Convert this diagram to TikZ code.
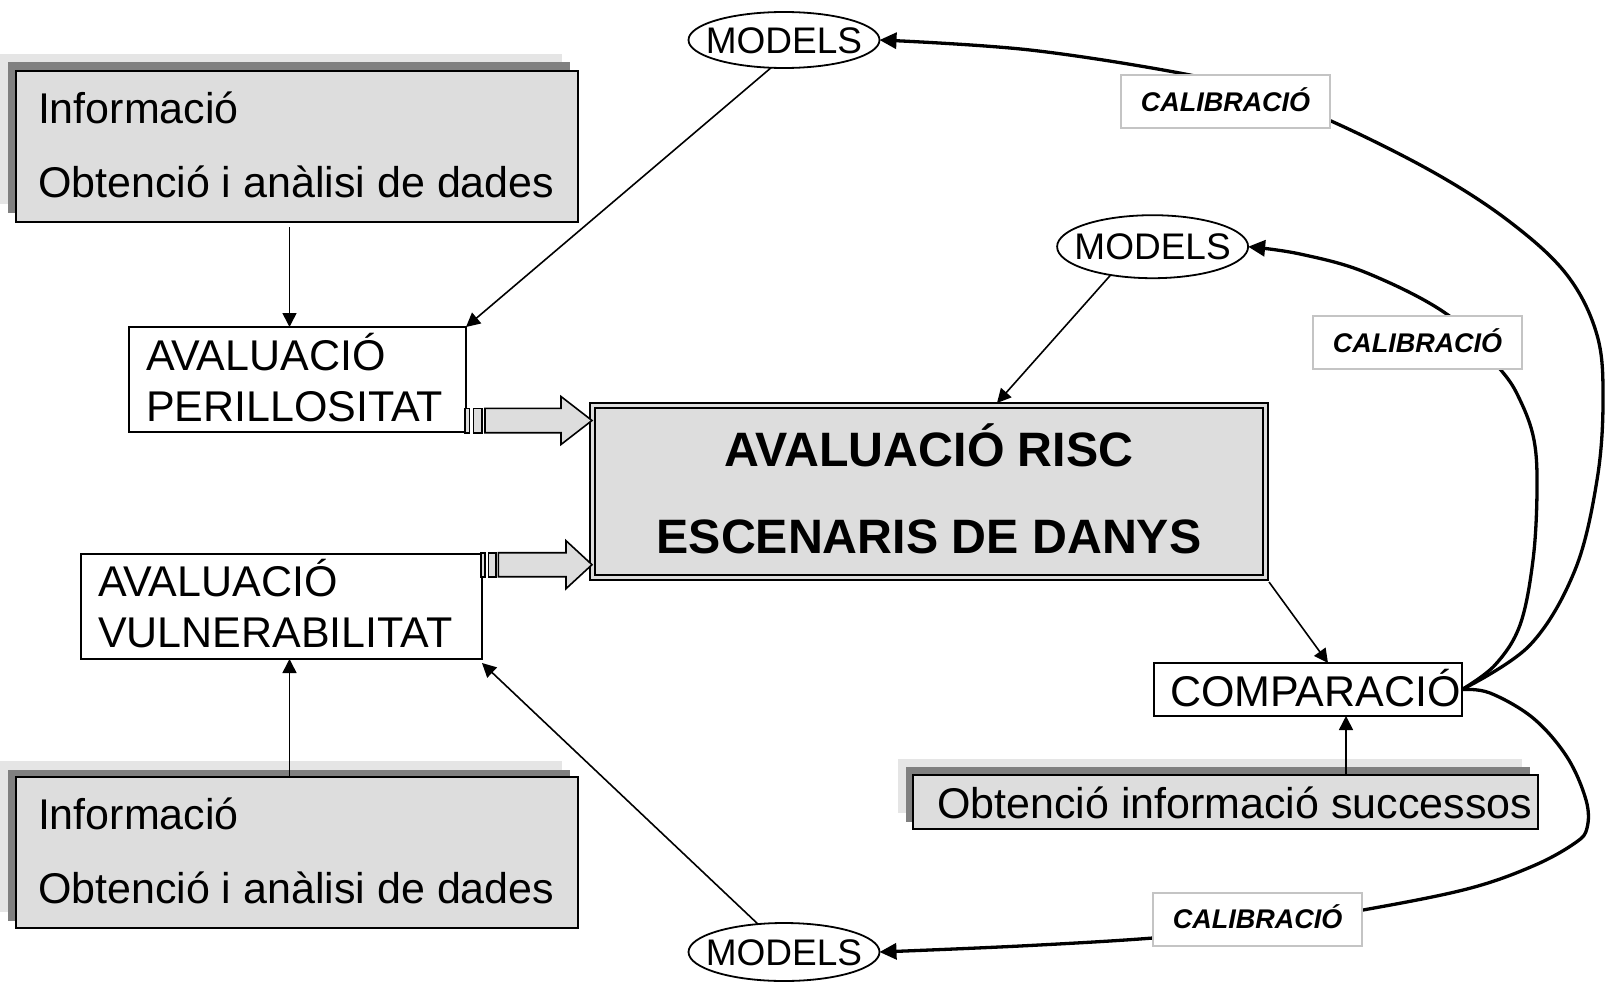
\documentclass[tikz,border=0pt]{standalone}
\usepackage{fontspec}
\setmainfont{Liberation Sans}
\usetikzlibrary{arrows.meta,shapes.geometric,calc}
\definecolor{boxgray}{HTML}{DDDDDD}
\definecolor{darkshadow}{HTML}{808080}
\definecolor{lightshadow}{HTML}{E5E5E5}
\definecolor{calborder}{HTML}{C4C4C4}
\begin{document}
\begin{tikzpicture}[x=1pt,y=-1pt,
  every node/.style={outer sep=0pt},
  infobox/.style={draw, line width=2pt, fill=boxgray, minimum width=562pt, minimum height=151pt, anchor=north west, inner sep=0pt},
  whitebox/.style={draw, line width=1.8pt, fill=white, anchor=north west, inner sep=0pt},
  modelnode/.style={ellipse, draw, line width=1.8pt, fill=white, minimum width=191pt, inner sep=0pt},
  modeltxt/.style={inner sep=0pt, font=\fontsize{37}{40}\selectfont, text height=26.5pt, text depth=0pt},
  calnode/.style={draw=calborder, line width=2pt, fill=white, minimum width=209pt, minimum height=53pt, inner sep=0pt, font=\fontsize{27}{30}\selectfont\bfseries\itshape, text height=19.3pt, text depth=0pt},
  txt/.style={inner sep=0pt, anchor=base west, font=\fontsize{43}{50}\selectfont},
  bigtxt/.style={inner sep=0pt, anchor=base, font=\fontsize{48.3}{56}\selectfont\bfseries},
  thinarrow/.style={line width=1.6pt, -{Triangle[length=14pt,width=14pt]}},
  curvearrow/.style={line width=3.3pt, line join=round, -{Triangle[length=17pt,width=16pt]}},
  blockarrow/.style={draw, line width=1.6pt, fill=boxgray, line join=miter}
]
\useasboundingbox (0,0) rectangle (1605,982);

% ---------- info boxes with shadows ----------
\fill[lightshadow] (0,54) rectangle (562,204);
\fill[darkshadow] (8,62) rectangle (570,213);
\node[infobox] (info1) at (16,71) {};
\node[txt] (i1a) at (38,123) {Informació};
\node[txt] (i1b) at (38,197) {Obtenció i anàlisi de dades};

\fill[lightshadow] (0,761) rectangle (562,912);
\fill[darkshadow] (8,770) rectangle (570,921);
\node[infobox] (info2) at (16,777) {};
\node[txt] (i2a) at (38,829) {Informació};
\node[txt] (i2b) at (38,903) {Obtenció i anàlisi de dades};

\fill[lightshadow] (898,759) rectangle (1522,813);
\fill[darkshadow] (906,767) rectangle (1530,822);
\node[infobox, minimum width=625pt, minimum height=54pt] (succ) at (913,775) {};
\node[txt] (s1) at (937,818) {Obtenció informació successos};

% ---------- evaluation boxes ----------
\node[whitebox, minimum width=337pt, minimum height=105pt] (perill) at (129,327) {};
\node[txt] (p1) at (146,370.7) {AVALUACIÓ};
\node[txt] (p2) at (146,421.7) {PERILLOSITAT};

\node[whitebox, minimum width=401pt, minimum height=105pt] (vuln) at (81,554) {};
\node[txt] (v1) at (98,596.7) {AVALUACIÓ};
\node[txt] (v2) at (98,647.7) {VULNERABILITAT};

% ---------- central box ----------
\node[draw, line width=2pt, fill=boxgray, anchor=north west, minimum width=678pt, minimum height=177pt, inner sep=0pt] (risc) at (590,403) {};
\draw[line width=2pt] ([xshift=5pt,yshift=-5pt]risc.north west) rectangle ([xshift=-5pt,yshift=5pt]risc.south east);
\node[bigtxt] (r1) at (929,466.7) {AVALUACIÓ RISC};
\node[bigtxt] (r2) at (929,553.3) {ESCENARIS DE DANYS};

% ---------- comparacio ----------
\node[whitebox, minimum width=308pt, minimum height=53pt] (comp) at (1154,663) {};
\node[txt] (c1t) at (1170,706) {COMPARACIÓ};

% ---------- models ----------
\node[modelnode, minimum height=56pt] (m1) at (784,40) {};
\node[modeltxt] (m1t) at (m1) {MODELS};
\node[modelnode, minimum height=63pt] (m2) at (1152.6,246.7) {};
\node[modeltxt] (m2t) at (m2) {MODELS};
\node[modelnode, minimum height=58pt] (m3) at (784,952) {};
\node[modeltxt] (m3t) at (m3) {MODELS};

% ---------- block arrows ----------
\draw[blockarrow] (465,408.3) rectangle (469.3,432.7);
\draw[blockarrow] (473.3,408.3) rectangle (481.7,432.7);
\draw[blockarrow] (485,408.3) -- (561,408.3) -- (561,396.5) -- (592,420.5) -- (561,444.5) -- (561,432.7) -- (485,432.7) -- cycle;

\draw[blockarrow] (480.7,552.7) rectangle (485,576.7);
\draw[blockarrow] (488.3,552.7) rectangle (495.7,576.7);
\draw[blockarrow] (498.3,552.7) -- (566,552.7) -- (566,540.7) -- (592,564.7) -- (566,588.7) -- (566,576.7) -- (498.3,576.7) -- cycle;

% ---------- thin arrows ----------
\coordinate (pt) at ([xshift=-8pt]perill.north);
\draw[thinarrow, shorten <=5pt] (info1.south -| pt) -- (pt);
\coordinate (vb) at ([xshift=8pt]vuln.south);
\draw[thinarrow] (info2.north -| vb) -- (vb);
\draw[thinarrow] (m1.245) -- (perill.north east);
\draw[thinarrow] (m3.133) -- ([yshift=-4pt]vuln.south east);
\draw[thinarrow] (m2.214) -- ([xshift=68pt]risc.north);
\draw[thinarrow] ([xshift=1pt,yshift=-2pt]risc.south east) -- ([xshift=20pt]comp.north);
\coordinate (cb) at ([xshift=38pt]comp.south);
\draw[thinarrow] (succ.north -| cb) -- (cb);

% ---------- calibration curves ----------
\draw[curvearrow] plot[smooth, tension=0.6] coordinates {(comp.east) (1530,645) (1575,570) (1597,480) (1603,400) (1597,335) (1567,275) (1510,222) (1433,172) (1331,121) (1260,95) (1190,75) (1030,50) (m1.east)};
\draw[curvearrow] plot[smooth, tension=0.6] coordinates {(comp.east) (1495,665) (1520,625) (1533,560) (1537,490) (1534,440) (1520,400) (1500,369) (1448,315) (1367,273) (1300,254) (m2.east)};
\draw[curvearrow] plot[smooth, tension=0.6] coordinates {(comp.east) (1490,693) (1533,718) (1567,757) (1586,800) (1587,828) (1575,843) (1533,866) (1467,889) (1363,910) (1250,928) (1153,938) (1020,946) (m3.east)};

\node[calnode] (cal1) at (1225.5,101.5) {CALIBRACIÓ};
\node[calnode] (cal2) at (1417.5,342.7) {CALIBRACIÓ};
\node[calnode] (cal3) at (1257.7,919.2) {CALIBRACIÓ};
\end{tikzpicture}
\end{document}
